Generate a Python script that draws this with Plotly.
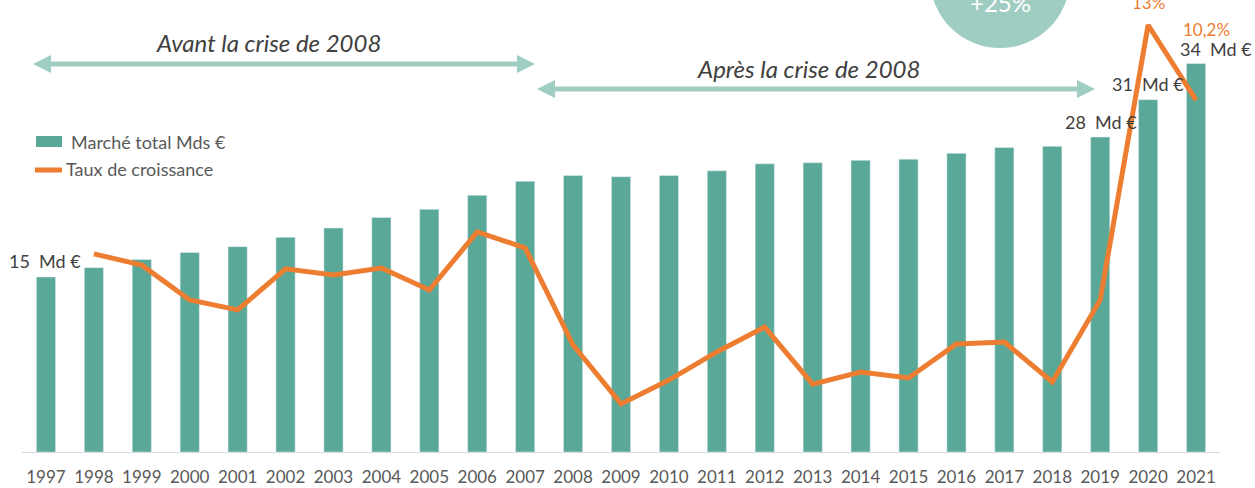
import plotly.graph_objects as go

years = [str(y) for y in range(1997, 2022)]
market = [15.0, 15.8, 16.5, 17.1, 17.6, 18.4, 19.2, 20.1, 20.8, 22.0, 23.2, 23.7, 23.6,
          23.7, 24.1, 24.7, 24.8, 25.0, 25.1, 25.6, 26.1, 26.2, 27.0, 30.2, 33.3]
growth = [None, 4.46, 4.04, 2.74, 2.37, 3.90, 3.67, 3.93, 3.11, 5.28, 4.68, 1.06, -1.14,
          -0.25, 0.80, 1.73, -0.40, 0.05, -0.17, 1.10, 1.17, -0.32, 2.74, 13.0, 10.2]
bar_labels = {"1997": "15  Md €", "2019": "28  Md €", "2020": "31  Md €", "2021": "34  Md €"}
growth_labels = {"2020": "13%", "2021": "10,2%"}

TEAL = "#5aa897"
LTEAL = "#9fcdc2"
ORANGE = "#ed7d31"
DARK = "#404040"
GREY = "#595959"
FONT = "Lato"

W, H = 1255, 488
L, R, T, B = 22, 35, 0, 36
PW, PH = W - L - R, H - T - B


def px(x):
    return (x - L) / PW


def py(y):
    return (H - B - y) / PH


fig = go.Figure()
fig.add_trace(go.Bar(x=years, y=market, marker_color=TEAL, width=0.4,
                     name="Marché total Mds €", showlegend=False))
fig.add_trace(go.Scatter(x=years, y=growth, yaxis="y2", mode="lines",
                         line=dict(color=ORANGE, width=5), name="Taux de croissance",
                         showlegend=False))

shapes = []
annotations = []


def text(x, y, t, color, size, xanchor="center"):
    annotations.append(dict(xref="paper", yref="paper", x=px(x), y=py(y), text=t,
                            xanchor=xanchor, yanchor="middle", showarrow=False,
                            font=dict(color=color, size=size, family=FONT)))


# circle at top
shapes.append(dict(type="circle", xref="paper", yref="paper", x0=px(930), x1=px(1070),
                   y0=py(48), y1=py(-92), fillcolor=LTEAL, line=dict(width=0), layer="below"))
text(1000, 2, "+25%", "white", 24)


def double_arrow(x0, x1, y):
    shapes.append(dict(type="line", xref="paper", yref="paper", x0=px(x0 + 10), x1=px(x1 - 10),
                       y0=py(y), y1=py(y), line=dict(color=LTEAL, width=5)))
    for tip, base in ((x0, x0 + 18), (x1, x1 - 18)):
        path = "M {} {} L {} {} L {} {} Z".format(px(tip), py(y), px(base), py(y - 9),
                                                   px(base), py(y + 9))
        shapes.append(dict(type="path", xref="paper", yref="paper", path=path,
                           fillcolor=LTEAL, line=dict(width=0)))


double_arrow(33, 535, 64)
double_arrow(537, 1095, 89)
text(268, 42, "<i>Avant la crise de 2008</i>", DARK, 24)
text(808, 68, "<i>Après la crise de 2008</i>", DARK, 24)

# legend (manual)
shapes.append(dict(type="rect", xref="paper", yref="paper", x0=px(36), x1=px(62),
                   y0=py(147), y1=py(136), fillcolor=TEAL, line=dict(width=0)))
shapes.append(dict(type="line", xref="paper", yref="paper", x0=px(35), x1=px(62),
                   y0=py(170), y1=py(170), line=dict(color=ORANGE, width=5)))
text(69, 142, "Marché total Mds €", GREY, 18, "left")
text(64, 169, "Taux de croissance", GREY, 18, "left")

# data labels
label_pos = {"1997": (83, 261), "2019": (1139, 122), "2020": (1186, 84), "2021": (1254, 49)}
for yr, t in bar_labels.items():
    x, y = label_pos[yr]
    text(x, y, t, DARK, 18, "right")
gl_pos = {"2020": (1148, 3), "2021": (1206, 30)}
for yr, t in growth_labels.items():
    x, y = gl_pos[yr]
    text(x, y, t, ORANGE, 17)

fig.update_layout(
    width=W, height=H,
    margin=dict(l=L, r=R, t=T, b=B),
    paper_bgcolor="white", plot_bgcolor="white",
    xaxis=dict(type="category", range=[-0.5, 24.5], showgrid=False, showline=True,
               linecolor="#d9d9d9", linewidth=1, ticks="outside", ticklen=10,
               tickcolor="rgba(0,0,0,0)",
               tickfont=dict(color=GREY, size=17, family=FONT)),
    yaxis=dict(range=[0, 452 / (175 / 15)], visible=False, showgrid=False, zeroline=False),
    yaxis2=dict(range=[13 - 427 / 26.8, 13 + 25 / 26.8], overlaying="y", visible=False,
                showgrid=False, zeroline=False),
    shapes=shapes, annotations=annotations, showlegend=False,
)

fig.write_html("out.html", config={"displayModeBar": False},
               post_script="document.body.style.margin='0';")
